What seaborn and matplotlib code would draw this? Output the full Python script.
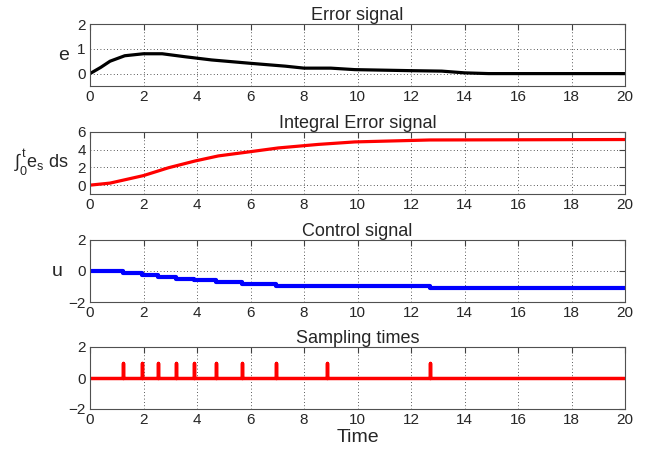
import numpy as np
import pandas as pd
import seaborn as sns
import matplotlib.pyplot as plt

# Error signal e(t)
err_t = [0, 0.4, 0.75, 1.3, 2.0, 2.7, 3.55, 4.55, 6.05, 7.3, 8.0, 9.0, 9.9, 11.9, 13.15, 14.0, 14.9, 20]
err_v = [0, 0.25, 0.5, 0.72, 0.8, 0.8, 0.68, 0.55, 0.41, 0.30, 0.22, 0.22, 0.16, 0.12, 0.10, 0.03, 0, 0]

# Integral of the sampled error
int_t = [0, 0.75, 2.0, 2.93, 3.93, 4.8, 6.05, 7.04, 8.54, 9.9, 12.7, 20]
int_v = [0, 0.23, 1.08, 1.96, 2.73, 3.3, 3.8, 4.2, 4.6, 4.88, 5.1, 5.15]

# event (sampling) times and control levels held between them
sample_times = [1.25, 1.95, 2.55, 3.2, 3.9, 4.7, 5.7, 6.95, 8.85, 12.7]
u_levels = [0, -0.16, -0.27, -0.39, -0.5, -0.61, -0.73, -0.84, -0.95, -0.99, -1.1]

sns.set_style('white')
plt.rcParams['font.family'] = ['Liberation Sans', 'DejaVu Sans']
plt.rcParams['mathtext.fontset'] = 'custom'
plt.rcParams['mathtext.rm'] = 'Liberation Sans'
plt.rcParams['mathtext.it'] = 'Liberation Sans'
plt.rcParams['mathtext.fallback'] = 'cm'

df_e = pd.DataFrame({'t': err_t, 'e': err_v})
df_i = pd.DataFrame({'t': int_t, 'i': int_v})
df_u = pd.DataFrame({'t': [0] + sample_times + [20], 'u': u_levels + [u_levels[-1]]})

# spike train: baseline at 0 with unit impulses at sampling instants
sx, sy = [0], [0]
for st in sample_times:
    sx += [st, st, st]
    sy += [0, 1, 0]
sx.append(20)
sy.append(0)
df_s = pd.DataFrame({'t': sx, 's': sy})

fig = plt.figure(figsize=(6.54, 4.53), dpi=100)
W, H = 654, 453
left, width = 90 / W, 535 / W
tops = [24, 132, 240, 347]
h = 62 / H
axes = [fig.add_axes([left, 1 - (tp + 62) / H, width, h]) for tp in tops]

sns.lineplot(data=df_e, x='t', y='e', ax=axes[0], color='black', linewidth=2.3,
             estimator=None, sort=False)
sns.lineplot(data=df_i, x='t', y='i', ax=axes[1], color='red', linewidth=2.3,
             estimator=None, sort=False)
sns.lineplot(data=df_u, x='t', y='u', ax=axes[2], color='blue', linewidth=3,
             estimator=None, sort=False, drawstyle='steps-post')
sns.lineplot(data=df_s, x='t', y='s', ax=axes[3], color='red', linewidth=2.5,
             estimator=None, sort=False)

titles = ['Error signal', 'Integral Error signal', 'Control signal', 'Sampling times']
ylims = [(-0.5, 2), (-1, 6), (-2, 2), (-2, 2)]
yticks = [[0, 1, 2], [0, 2, 4, 6], [-2, 0, 2], [-2, 0, 2]]
ylabels = ['e', r'$\int_0^t e_s$ ds', 'u', '']
labx = [-0.05, -0.09, -0.062, 0]

for ax, ti, yl, yt, lab, lx in zip(axes, titles, ylims, yticks, ylabels, labx):
    ax.set_xlim(0, 20)
    ax.set_ylim(*yl)
    ax.set_xticks(range(0, 21, 2))
    ax.set_yticks(yt)
    ax.set_title(ti, fontsize=13, pad=3)
    ax.set_xlabel('')
    ax.set_ylabel(lab, rotation=0, fontsize=14, va='center', ha='center')
    ax.yaxis.set_label_coords(lx, 0.5)
    ax.grid(True, linestyle=(0, (1, 3)), color='#222222', linewidth=0.6)
    ax.tick_params(direction='in', top=True, right=True, length=4, width=0.8,
                   labelsize=11, pad=3, color='#404040')
    for sp in ax.spines.values():
        sp.set_visible(True)
        sp.set_color('#505050')
        sp.set_linewidth(0.8)

axes[1].set_ylabel(r'$\int_0^t e_s$ ds', rotation=0, fontsize=13, va='center', ha='center')
axes[1].yaxis.set_label_coords(-0.09, 0.5)
axes[3].set_xlabel('Time', fontsize=14, labelpad=1)

fig.savefig('out.png', dpi=100)
